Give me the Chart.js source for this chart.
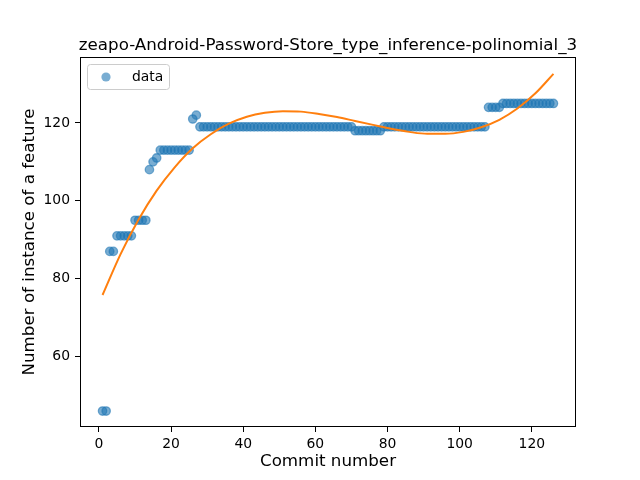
<!DOCTYPE html>
<html>
<head>
<meta charset="utf-8">
<script src="https://cdn.jsdelivr.net/npm/chart.js@4/dist/chart.umd.min.js"></script>
<style>
body { margin: 0; background: #fff; }
canvas { display: block; }
</style>
</head>
<body>
<canvas id="fitChart" width="640" height="480"></canvas>
<script>
var chartTitle = 'zeapo-Android-Password-Store_type_inference-polinomial_3';
var xLabel = 'Commit number';
var yLabel = 'Number of instance of a feature';

// one value per commit, commit number = position + 1
var featureCounts = [
    46, 46, 87, 87, 91, 91, 91, 91, 91, 95,
    95, 95, 95, 108, 110, 111, 113, 113, 113, 113,
    113, 113, 113, 113, 113, 121, 122, 119, 119, 119,
    119, 119, 119, 119, 119, 119, 119, 119, 119, 119,
    119, 119, 119, 119, 119, 119, 119, 119, 119, 119,
    119, 119, 119, 119, 119, 119, 119, 119, 119, 119,
    119, 119, 119, 119, 119, 119, 119, 119, 119, 119,
    118, 118, 118, 118, 118, 118, 118, 118, 119, 119,
    119, 119, 119, 119, 119, 119, 119, 119, 119, 119,
    119, 119, 119, 119, 119, 119, 119, 119, 119, 119,
    119, 119, 119, 119, 119, 119, 119, 124, 124, 124,
    124, 125, 125, 125, 125, 125, 125, 125, 125, 125,
    125, 125, 125, 125, 125, 125
];
var commitNumbers = featureCounts.map(function (v, i) { return i + 1; });

// orange curve
var fitCommits = [1, 6, 11, 16, 21, 26, 31, 36, 41, 46, 51, 56, 61, 66, 71, 76, 81, 86, 91, 96, 101, 106, 111, 116, 121, 126];
var fitValues = [75.8, 86.3, 95.2, 102.6, 108.6, 113.5, 117.1, 119.8, 121.6, 122.6, 123.0, 122.9, 122.3, 121.5, 120.5, 119.5, 118.5, 117.7, 117.2, 117.2, 117.7, 118.9, 120.8, 123.7, 127.6, 132.6];

var xTicks = [0, 20, 40, 60, 80, 100, 120];
var yTicks = [60, 80, 100, 120];

var FONT = "'DejaVu Sans', sans-serif";

var mplDecor = {
    id: 'mplDecor',
    afterDraw: function (chart) {
        var ctx = chart.ctx;
        var a = chart.chartArea;
        ctx.save();
        // axes frame
        ctx.strokeStyle = '#000';
        ctx.lineWidth = 1;
        ctx.strokeRect(Math.round(a.left) + 0.5, Math.round(a.top) + 0.5,
            Math.round(a.right - a.left) - 1, Math.round(a.bottom - a.top) - 1);

        // title and axis labels
        ctx.fillStyle = '#000';
        ctx.font = '16.7px ' + FONT;
        ctx.textAlign = 'center';
        ctx.textBaseline = 'alphabetic';
        ctx.fillText(chartTitle, (a.left + a.right) / 2, 50);
        ctx.textBaseline = 'middle';
        ctx.fillText(xLabel, (a.left + a.right) / 2, 462);
        ctx.save();
        ctx.translate(30, (a.top + a.bottom) / 2);
        ctx.rotate(-Math.PI / 2);
        ctx.fillText(yLabel, 0, 0);
        ctx.restore();

        // legend
        var lx = a.left + 7, ly = a.top + 7, lw = 82, lh = 25;
        ctx.beginPath();
        ctx.roundRect(lx + 0.5, ly + 0.5, lw, lh, 3);
        ctx.fillStyle = 'rgba(255,255,255,0.8)';
        ctx.fill();
        ctx.strokeStyle = '#cccccc';
        ctx.stroke();
        ctx.beginPath();
        ctx.arc(lx + 19, ly + lh / 2 + 0.5, 4.6, 0, Math.PI * 2);
        ctx.fillStyle = 'rgba(31,119,180,0.6)';
        ctx.fill();
        ctx.fillStyle = '#000';
        ctx.font = '13.9px ' + FONT;
        ctx.textAlign = 'left';
        ctx.textBaseline = 'middle';
        ctx.fillText('data', lx + 45, ly + lh / 2 + 0.5);
        ctx.restore();
    }
};

var ctx = document.getElementById('fitChart').getContext('2d');
var fitChart = new Chart(ctx, {
    type: 'scatter',
    data: {
        datasets: [{
            label: 'fit',
            type: 'line',
            data: fitCommits.map(function (c, i) { return { x: c, y: fitValues[i] }; }),
            borderColor: '#ff7f0e',
            borderWidth: 2,
            pointRadius: 0,
            fill: false,
            cubicInterpolationMode: 'monotone',
            order: 0
        }, {
            label: 'data',
            data: commitNumbers.map(function (c, i) { return { x: c, y: featureCounts[i] }; }),
            backgroundColor: 'rgba(31,119,180,0.6)',
            borderColor: 'rgba(31,119,180,0.6)',
            borderWidth: 1.3,
            pointRadius: 4.2,
            order: 1
        }]
    },
    options: {
        responsive: false,
        animation: false,
        layout: { padding: { top: 57, right: 64, left: 0, bottom: 0 } },
        plugins: {
            legend: { display: false },
            title: { display: false },
            tooltip: { enabled: false }
        },
        scales: {
            x: {
                type: 'linear',
                min: -5.25,
                max: 132.25,
                afterBuildTicks: function (axis) {
                    axis.ticks = xTicks.map(function (v) { return { value: v }; });
                },
                afterFit: function (axis) { axis.height = 53; },
                border: { display: false },
                grid: { drawOnChartArea: false, drawTicks: true, tickLength: 5, tickColor: '#000', color: '#000' },
                ticks: { color: '#000', font: { family: FONT, size: 13.9 }, padding: 4, maxRotation: 0 }
            },
            y: {
                type: 'linear',
                min: 41.9,
                max: 136.93,
                afterBuildTicks: function (axis) {
                    axis.ticks = yTicks.map(function (v) { return { value: v }; });
                },
                afterFit: function (axis) { axis.width = 80; },
                border: { display: false },
                grid: { drawOnChartArea: false, drawTicks: true, tickLength: 5, tickColor: '#000', color: '#000' },
                ticks: { color: '#000', font: { family: FONT, size: 13.9 }, padding: 5 }
            }
        }
    },
    plugins: [mplDecor]
});
</script>
</body>
</html>
